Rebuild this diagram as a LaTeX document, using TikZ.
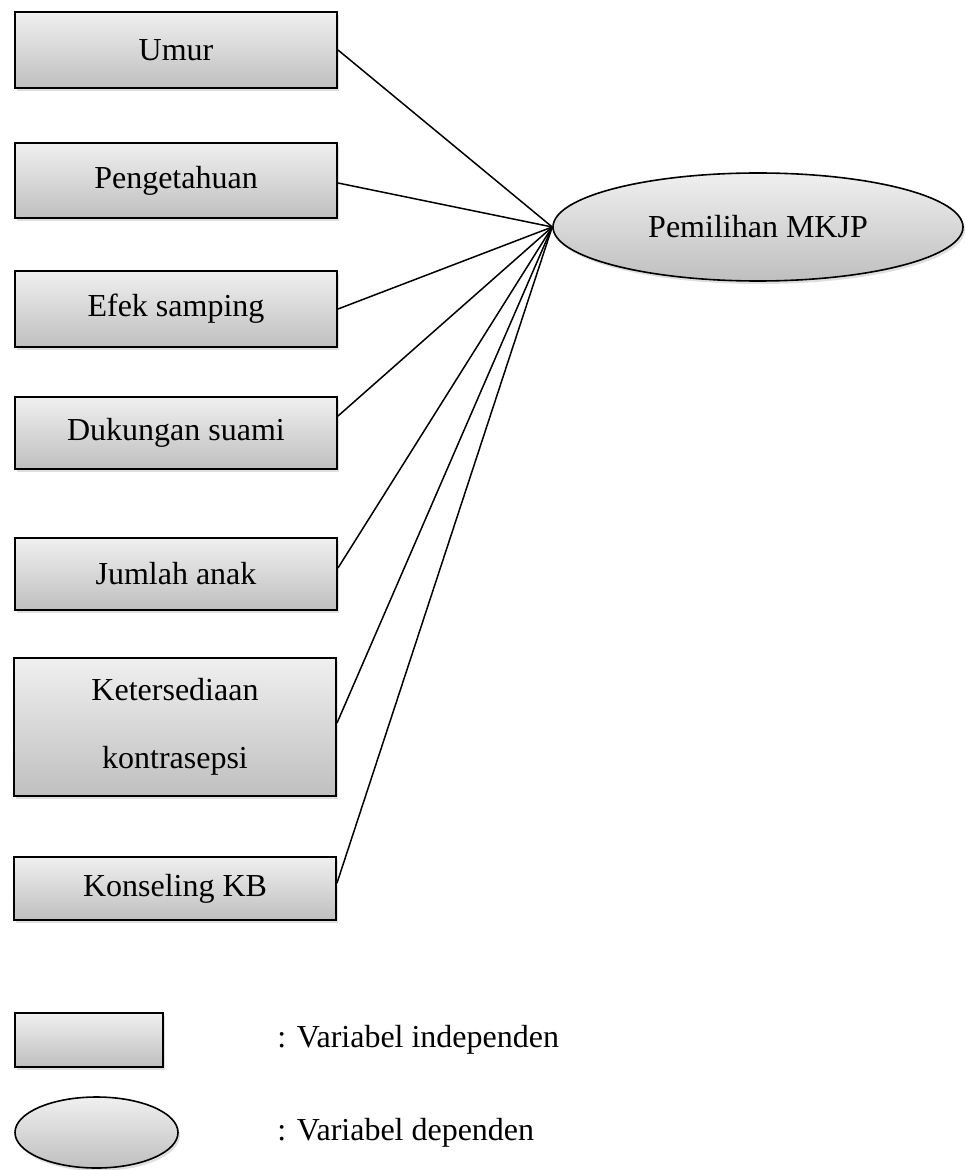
\documentclass[tikz,border=0pt]{standalone}
\usepackage{fontspec}
\setmainfont{Liberation Serif}
\usetikzlibrary{shapes.geometric,shadows}
\tikzset{
  varbox/.style={draw=black, line width=1pt, rectangle, inner sep=0pt,
    top color=black!6, bottom color=black!25,
    drop shadow={shadow xshift=1pt, shadow yshift=-1.5pt, opacity=0.25},
    font=\fontsize{16}{19}\selectfont, align=center},
  depell/.style={draw=black, line width=0.8pt, ellipse, inner sep=0pt,
    top color=black!6, bottom color=black!25,
    drop shadow={shadow xshift=1pt, shadow yshift=-1.5pt, opacity=0.25},
    font=\fontsize{16}{19}\selectfont},
  legtext/.style={anchor=west, inner sep=0pt, font=\fontsize{16}{19}\selectfont},
  link/.style={draw=black, line width=0.75pt}
}
\begin{document}
\begin{tikzpicture}[x=0.5pt, y=-0.5pt]
\useasboundingbox (0,0) rectangle (965,1170);
% independent variables
\node[varbox, minimum width=161pt, minimum height=38pt] (umur) at (176,50) {Umur};
\node[varbox, minimum width=161pt, minimum height=37.5pt] (peng) at (176,180.5) {Pengetahuan};
\node[varbox, minimum width=161pt, minimum height=38pt] (efek) at (176,309) {Efek samping};
\node[varbox, minimum width=161pt, minimum height=36pt] (duk) at (176,433) {Dukungan suami};
\node[varbox, minimum width=161pt, minimum height=36pt] (jml) at (176,574) {Jumlah anak};
\node[varbox, minimum width=161pt, minimum height=69pt, font=\fontsize{16}{34}\selectfont] (ket) at (175,727) {Ketersediaan\\kontrasepsi};
\node[varbox, minimum width=161pt, minimum height=31.5pt] (kons) at (175,888.5) {Konseling KB};
% dependent variable
\node[depell, minimum width=205pt, minimum height=54pt] (mkjp) at (758,227) {Pemilihan MKJP};
% connectors
\draw[link] (umur.east) -- (mkjp.west);
\draw[link] ([yshift=-1.25pt]peng.east) -- (mkjp.west);
\draw[link] (efek.east) -- (mkjp.west);
\draw[link] ([yshift=8.5pt]duk.east) -- (mkjp.west);
\draw[link] ([yshift=3pt]jml.east) -- (mkjp.west);
\draw[link] ([yshift=2pt]ket.east) -- (mkjp.west);
\draw[link] ([yshift=2.75pt]kons.east) -- (mkjp.west);
% legend
\node[varbox, minimum width=74pt, minimum height=27pt] (legbox) at (89,1040) {};
\node[depell, minimum width=81.5pt, minimum height=35.5pt] (legell) at (96.5,1132.5) {};
\node[legtext] (legind) at (277,1040) {: Variabel independen};
\node[legtext] (legdep) at (277,1133) {: Variabel dependen};
\end{tikzpicture}
\end{document}
